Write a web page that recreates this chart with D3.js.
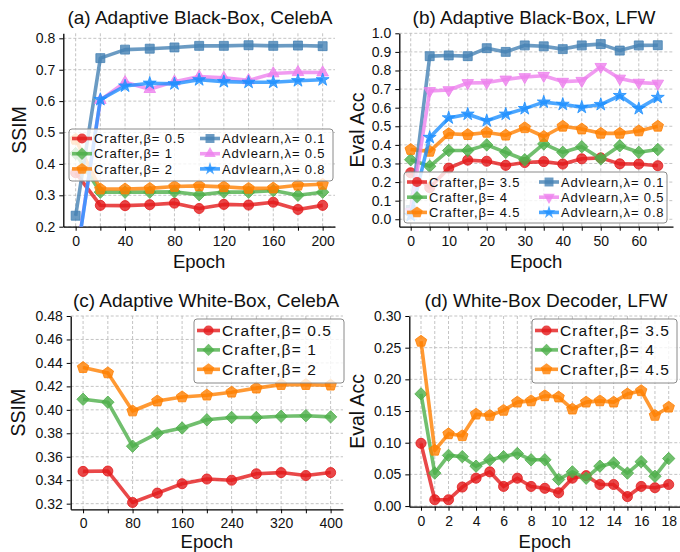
<!DOCTYPE html>
<html>
<head>
<meta charset="utf-8">
<script src="https://cdn.jsdelivr.net/npm/d3@7"></script>
<style>
  body { margin: 0; background: #fff; }
  svg { font-family: 'Liberation Sans', Arial, Helvetica, sans-serif; }
</style>
</head>
<body>
<svg id="chart" width="680" height="552"></svg>
<script>
// ---- data: (a) adaptive black-box, CelebA (SSIM) ----
const epochsA = [0, 20, 40, 60, 80, 100, 120, 140, 160, 180, 200];
const crafterA05 = [0.372, 0.268, 0.267, 0.270, 0.275, 0.258, 0.271, 0.269, 0.278, 0.255, 0.268];
const crafterA1 = [0.433, 0.310, 0.310, 0.310, 0.311, 0.302, 0.310, 0.310, 0.315, 0.300, 0.310];
const crafterA2 = [0.478, 0.320, 0.320, 0.322, 0.328, 0.330, 0.327, 0.322, 0.323, 0.332, 0.335];
const advA01 = [0.235, 0.737, 0.764, 0.767, 0.771, 0.776, 0.776, 0.778, 0.776, 0.777, 0.775];
const advA05 = [0.085, 0.603, 0.660, 0.638, 0.662, 0.678, 0.674, 0.666, 0.688, 0.692, 0.691];
const advA08 = [0.080, 0.605, 0.648, 0.657, 0.655, 0.668, 0.662, 0.660, 0.660, 0.665, 0.668];
const yTicksA = [0.2, 0.3, 0.4, 0.5, 0.6, 0.7, 0.8];

// ---- data: (b) adaptive black-box, LFW (eval acc) ----
const epochsB = [0, 5, 10, 15, 20, 25, 30, 35, 40, 45, 50, 55, 60, 65];
const crafterB35 = [0.250, 0.170, 0.275, 0.318, 0.312, 0.290, 0.305, 0.310, 0.297, 0.325, 0.330, 0.298, 0.297, 0.288];
const crafterB4 = [0.320, 0.285, 0.370, 0.370, 0.400, 0.360, 0.320, 0.405, 0.360, 0.390, 0.325, 0.395, 0.360, 0.375];
const crafterB45 = [0.375, 0.365, 0.460, 0.455, 0.467, 0.452, 0.492, 0.445, 0.500, 0.485, 0.462, 0.462, 0.475, 0.500];
const advB01 = [0.050, 0.877, 0.881, 0.877, 0.920, 0.900, 0.935, 0.930, 0.915, 0.935, 0.942, 0.907, 0.935, 0.936];
const advB05 = [0.040, 0.690, 0.695, 0.733, 0.735, 0.752, 0.765, 0.772, 0.740, 0.745, 0.820, 0.757, 0.735, 0.730];
const advB08 = [0.020, 0.440, 0.545, 0.565, 0.530, 0.565, 0.595, 0.630, 0.618, 0.602, 0.617, 0.665, 0.595, 0.655];
const yTicksB = [0.0, 0.1, 0.2, 0.3, 0.4, 0.5, 0.6, 0.7, 0.8, 0.9, 1.0];

// ---- data: (c) adaptive white-box, CelebA (SSIM) ----
const epochsC = [0, 40, 80, 120, 160, 200, 240, 280, 320, 360, 400];
const crafterC05 = [0.3475, 0.3478, 0.3210, 0.3290, 0.3370, 0.3410, 0.3400, 0.3455, 0.3465, 0.3440, 0.3465];
const crafterC1 = [0.4090, 0.4065, 0.3690, 0.3800, 0.3845, 0.3915, 0.3935, 0.3935, 0.3945, 0.3950, 0.3940];
const crafterC2 = [0.4360, 0.4315, 0.3990, 0.4075, 0.4110, 0.4125, 0.4150, 0.4185, 0.4215, 0.4215, 0.4210];
const yTicksC = [0.32, 0.34, 0.36, 0.38, 0.40, 0.42, 0.44, 0.46, 0.48];

// ---- data: (d) white-box decoder, LFW (eval acc) ----
const epochsD = [0, 1, 2, 3, 4, 5, 6, 7, 8, 9, 10, 11, 12, 13, 14, 15, 16, 17, 18];
const crafterD35 = [0.099, 0.010, 0.010, 0.030, 0.044, 0.054, 0.031, 0.044, 0.031, 0.028, 0.021, 0.044, 0.048, 0.034, 0.034, 0.015, 0.031, 0.029, 0.034];
const crafterD4 = [0.177, 0.052, 0.080, 0.078, 0.063, 0.073, 0.078, 0.083, 0.073, 0.073, 0.042, 0.054, 0.044, 0.063, 0.068, 0.052, 0.070, 0.047, 0.075];
const crafterD45 = [0.260, 0.088, 0.114, 0.111, 0.145, 0.143, 0.151, 0.164, 0.166, 0.174, 0.172, 0.153, 0.164, 0.166, 0.164, 0.177, 0.182, 0.143, 0.156];
const yTicksD = [0.00, 0.05, 0.10, 0.15, 0.20, 0.25, 0.30];

const colors = {
  red: '#e41a1c', green: '#4daf4a', orange: '#ff7f00',
  steel: '#4682b4', violet: '#ee82ee', dodger: '#1e90ff'
};

const svg = d3.select('#chart');

/**
 * Returns the svg path of a marker, centred on 0,0
 */
function markerPath(type) {
  if (type === 'circle') return d3.symbol(d3.symbolCircle, 80)();
  if (type === 'square') return d3.symbol(d3.symbolSquare, 80)();
  if (type === 'star') return d3.symbol(d3.symbolStar, 52)();
  if (type === 'triangleUp' || type === 'triangleDown') return d3.symbol(d3.symbolTriangle, 58)();
  if (type === 'diamond') {
    const r = 6.2;
    return `M0,${-r}L${r},0L0,${r}L${-r},0Z`;
  }
  // pentagon
  const pts = d3.range(5).map(k => {
    const a = -Math.PI / 2 + k * 2 * Math.PI / 5;
    return [6 * Math.cos(a), 6 * Math.sin(a)];
  });
  return 'M' + pts.map(p => p.join(',')).join('L') + 'Z';
}

function markerRotate(type) {
  return type === 'triangleDown' ? ' rotate(180)' : '';
}

/**
 * Draws one panel: grid, axes, series, legend and labels
 */
function drawPanel(p) {
  const x = d3.scaleLinear().domain(p.xDomain).range([p.left, p.right]);
  const y = d3.scaleLinear().domain(p.yDomain).range([p.bottom, p.top]);
  const g = svg.append('g');

  const clipId = `clip-${p.id}`;
  g.append('clipPath').attr('id', clipId)
    .append('rect')
    .attr('x', p.left).attr('y', p.top - 8)
    .attr('width', p.right - p.left).attr('height', p.bottom - p.top + 8);

  // grid
  const grid = g.append('g')
    .attr('stroke', '#b5b5b5').attr('stroke-width', 0.8).attr('stroke-dasharray', '3,2');
  grid.selectAll('.gx').data(p.xs).enter().append('line')
    .attr('x1', d => x(d)).attr('x2', d => x(d))
    .attr('y1', p.top).attr('y2', p.bottom);
  grid.selectAll('.gy').data(p.yTicks).enter().append('line')
    .attr('x1', p.left).attr('x2', p.right)
    .attr('y1', d => y(d)).attr('y2', d => y(d));

  // axes
  const xAxis = g.append('g')
    .attr('transform', `translate(0,${p.bottom})`)
    .call(d3.axisBottom(x).tickValues(p.xs).tickSize(4).tickSizeOuter(0).tickPadding(5)
      .tickFormat((d, i) => i % 2 === 0 ? d : ''));
  const yAxis = g.append('g')
    .attr('transform', `translate(${p.left},0)`)
    .call(d3.axisLeft(y).tickValues(p.yTicks).tickSize(4).tickSizeOuter(0).tickPadding(4)
      .tickFormat(d3.format(p.yFormat)));
  [xAxis, yAxis].forEach(a => {
    a.select('.domain').attr('stroke', '#000').attr('stroke-width', 1.3);
    a.selectAll('.tick line').attr('stroke', '#000').attr('stroke-width', 1);
    a.selectAll('.tick text')
      .attr('fill', '#111')
      .style('font-size', '14px')
      .style('font-family', "'Liberation Sans', Arial, sans-serif");
  });

  // series
  const plot = g.append('g').attr('clip-path', `url(#${clipId})`);
  const line = d3.line().x(d => x(d[0])).y(d => y(d[1]));
  p.series.forEach(s => {
    const pts = p.xs.map((xv, i) => [xv, s.values[i]]);
    plot.append('path')
      .attr('d', line(pts))
      .attr('fill', 'none')
      .attr('stroke', s.color)
      .attr('stroke-opacity', 0.8)
      .attr('stroke-width', 3.6)
      .attr('stroke-linejoin', 'round');
    plot.selectAll(null).data(pts).enter().append('path')
      .attr('d', markerPath(s.marker))
      .attr('transform', d => `translate(${x(d[0])},${y(d[1])})${markerRotate(s.marker)}`)
      .attr('fill', s.color)
      .attr('fill-opacity', 0.8)
      .attr('stroke', s.color)
      .attr('stroke-opacity', 0.8)
      .attr('stroke-width', 1);
  });

  // legend
  const lg = p.legend;
  const leg = g.append('g');
  leg.append('rect')
    .attr('x', lg.x).attr('y', lg.y).attr('width', lg.w).attr('height', lg.h)
    .attr('rx', 3)
    .attr('fill', '#fff').attr('fill-opacity', 0.8)
    .attr('stroke', '#8a8a8a').attr('stroke-width', 1);
  p.series.forEach((s, i) => {
    const col = Math.floor(i / 3);
    const row = i % 3;
    const hx = lg.x + 3 + col * lg.colW;
    const hy = lg.y + lg.firstRow + row * lg.rowH;
    leg.append('line')
      .attr('x1', hx).attr('x2', hx + lg.handle)
      .attr('y1', hy).attr('y2', hy)
      .attr('stroke', s.color).attr('stroke-opacity', 0.8).attr('stroke-width', 3.6);
    leg.append('path')
      .attr('d', markerPath(s.marker))
      .attr('transform', `translate(${hx + lg.handle / 2},${hy})${markerRotate(s.marker)}`)
      .attr('fill', s.color).attr('fill-opacity', 0.8);
    leg.append('text')
      .attr('x', hx + lg.handle + 2).attr('y', hy)
      .attr('dy', '0.36em')
      .style('font-size', lg.font + 'px')
      .style('letter-spacing', lg.spacing + 'px')
      .attr('fill', '#111')
      .text(s.name);
  });

  // title and axis labels
  g.append('text')
    .attr('x', p.titleX).attr('y', p.top - 9)
    .attr('text-anchor', 'middle')
    .style('font-size', '19px')
    .attr('fill', '#111')
    .text(p.title);
  g.append('text')
    .attr('x', (p.left + p.right) / 2).attr('y', Math.min(p.bottom + 41, 548))
    .attr('text-anchor', 'middle')
    .style('font-size', '18.5px')
    .attr('fill', '#111')
    .text('Epoch');
  g.append('text')
    .attr('transform', `translate(${p.yLabelX},${(p.top + p.bottom) / 2}) rotate(-90)`)
    .attr('text-anchor', 'middle')
    .attr('dy', '0.36em')
    .style('font-size', '19.5px')
    .attr('fill', '#111')
    .text(p.yLabel);
}

const crafterMarkers = ['circle', 'diamond', 'pentagon'];
const crafterColors = [colors.red, colors.green, colors.orange];
function crafterSeries(names, values) {
  return names.map((n, i) => ({name: n, color: crafterColors[i], marker: crafterMarkers[i], values: values[i]}));
}

const legendSmall = {font: 13, spacing: 0.85, handle: 20, rowH: 15.2};
const legendBig = {font: 15.5, spacing: 1.1, handle: 23, rowH: 19.4, colW: 0};

drawPanel({
  id: 'a', title: '(a) Adaptive Black-Box, CelebA', titleX: 200, yLabel: 'SSIM', yLabelX: 19,
  left: 63.3, right: 335, top: 33.3, bottom: 226.7,
  xDomain: [-10, 210], yDomain: [0.2, 0.816], xs: epochsA, yTicks: yTicksA, yFormat: '.1f',
  series: crafterSeries(['Crafter,β= 0.5', 'Crafter,β= 1', 'Crafter,β= 2'], [crafterA05, crafterA1, crafterA2])
    .concat([
      {name: 'Advlearn,λ= 0.1', color: colors.steel, marker: 'square', values: advA01},
      {name: 'Advlearn,λ= 0.5', color: colors.violet, marker: 'triangleUp', values: advA05},
      {name: 'Advlearn,λ= 0.8', color: colors.dodger, marker: 'star', values: advA08}
    ]),
  legend: Object.assign({x: 69, y: 129, w: 264, h: 52, firstRow: 9.5, colW: 128}, legendSmall)
});

drawPanel({
  id: 'b', title: '(b) Adaptive Black-Box, LFW', titleX: 534, yLabel: 'Eval Acc', yLabelX: 357,
  left: 399.3, right: 673, top: 33.3, bottom: 226.7,
  xDomain: [-3, 69], yDomain: [-0.04, 1.0], xs: epochsB, yTicks: yTicksB, yFormat: '.1f',
  series: crafterSeries(['Crafter,β= 3.5', 'Crafter,β= 4', 'Crafter,β= 4.5'], [crafterB35, crafterB4, crafterB45])
    .concat([
      {name: 'Advlearn,λ= 0.1', color: colors.steel, marker: 'square', values: advB01},
      {name: 'Advlearn,λ= 0.5', color: colors.violet, marker: 'triangleDown', values: advB05},
      {name: 'Advlearn,λ= 0.8', color: colors.dodger, marker: 'star', values: advB08}
    ]),
  legend: Object.assign({x: 404, y: 172, w: 263, h: 51, firstRow: 10, colW: 132}, legendSmall)
});

drawPanel({
  id: 'c', title: '(c) Adaptive White-Box, CelebA', titleX: 206, yLabel: 'SSIM', yLabelX: 18,
  left: 70.7, right: 343, top: 316, bottom: 509.3,
  xDomain: [-20, 420], yDomain: [0.3152, 0.48], xs: epochsC, yTicks: yTicksC, yFormat: '.2f',
  series: crafterSeries(['Crafter,β= 0.5', 'Crafter,β= 1', 'Crafter,β= 2'], [crafterC05, crafterC1, crafterC2]),
  legend: Object.assign({x: 194, y: 319, w: 150, h: 64, firstRow: 11.5}, legendBig)
});

drawPanel({
  id: 'd', title: '(d) White-Box Decoder, LFW', titleX: 546, yLabel: 'Eval Acc', yLabelX: 357,
  left: 409.3, right: 680.4, top: 316, bottom: 506.7,
  xDomain: [-0.85, 18.85], yDomain: [-0.001, 0.30], xs: epochsD, yTicks: yTicksD, yFormat: '.2f',
  series: crafterSeries(['Crafter,β= 3.5', 'Crafter,β= 4', 'Crafter,β= 4.5'], [crafterD35, crafterD4, crafterD45]),
  legend: Object.assign({x: 532, y: 319, w: 145, h: 64, firstRow: 11.5}, legendBig)
});
</script>
</body>
</html>
